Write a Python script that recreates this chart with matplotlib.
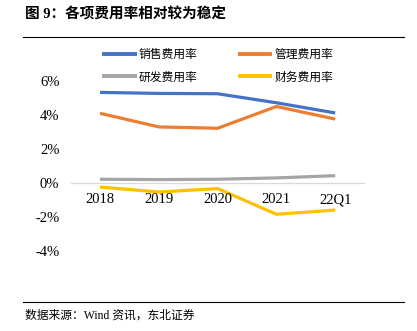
import matplotlib.pyplot as plt
from matplotlib.lines import Line2D

plt.rcParams['font.family'] = ['Liberation Serif', 'Noto Sans CJK SC']

periods = ["2018", "2019", "2020", "2021", "22Q1"]
sales = [5.33, 5.27, 5.25, 4.72, 4.12]
admin = [4.10, 3.30, 3.22, 4.50, 3.76]
rnd = [0.22, 0.20, 0.22, 0.30, 0.43]
finance = [-0.24, -0.53, -0.33, -1.84, -1.59]
names = ["销售费用率", "管理费用率", "研发费用率", "财务费用率"]
colors = ["#4472C4", "#ED7D31", "#A5A5A5", "#FFC000"]
yticks = [-4, -2, 0, 2, 4, 6]

fig = plt.figure(figsize=(4.17, 3.31), dpi=100)
ax = fig.add_axes([0.1693, 0.139, 0.705, 0.719])

x = range(len(periods))
lines = []
for vals, c in zip([sales, admin, rnd, finance], colors):
    ln, = ax.plot(x, vals, color=c, lw=2.3, solid_capstyle='butt')
    lines.append(ln)

ax.axhline(0, color='#D9D9D9', lw=0.9, zorder=0)
ax.set_xlim(-0.5, len(periods) - 0.5)
ax.set_ylim(-6, 8)
ax.set_yticks(yticks)
ax.set_yticklabels([f"{v}%" for v in yticks], fontsize=10.5)
ax.tick_params(axis='y', length=0, pad=8)
ax.set_xticks([])
for s in ax.spines.values():
    s.set_visible(False)
for i, p in enumerate(periods):
    ax.text(i, -0.6, p, ha='center', va='top', fontsize=10.5)

# legend fills by column, so reorder to get rows: 销售/管理, 研发/财务
order = [0, 2, 1, 3]
handles = [Line2D([], [], color=colors[i], lw=2.8) for i in order]
fig.legend(handles, [names[i] for i in order], ncol=2, loc='center left',
           bbox_to_anchor=(0.225, 0.801), frameon=False,
           prop={'family': 'Noto Sans CJK SC', 'size': 8.5},
           handlelength=2.55, handletextpad=0.35, columnspacing=3.6,
           labelspacing=0.8)

fig.text(0.06, 0.957, "图 9：各项费用率相对较为稳定", fontsize=10.5,
         fontweight='bold', family=['Liberation Serif', 'Noto Sans CJK SC'],
         va='center')
fig.add_artist(Line2D([0.055, 0.97], [0.888, 0.888], color='black', lw=0.8))
fig.add_artist(Line2D([0.055, 0.97], [0.088, 0.088], color='black', lw=0.8))
fig.text(0.06, 0.045, "数据来源：Wind 资讯，东北证券", fontsize=8.5,
         family=['Liberation Serif', 'Noto Sans CJK SC'], va='center')

fig.savefig("out.png", dpi=100)
